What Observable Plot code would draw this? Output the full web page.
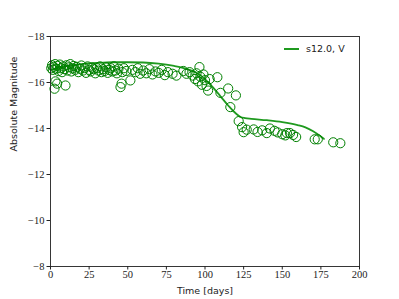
<!DOCTYPE html>
<html>
<head>
<meta charset="utf-8">
<script src="https://cdn.jsdelivr.net/npm/d3@7"></script>
<script src="https://cdn.jsdelivr.net/npm/@observablehq/plot@0.6"></script>
<style>
  html, body { margin: 0; padding: 0; background: #fff; }
  #wrap { position: relative; width: 399px; height: 299px; }
  #legend { position: absolute; left: 284px; top: 43px; font-family: "DejaVu Sans", sans-serif; font-size: 9.5px; color: #222; display: flex; align-items: center; line-height: 12px; }
  #legend svg { margin-right: 7px; }
</style>
</head>
<body>
<div id="wrap"></div>
<script>
// Observations: time [days] and absolute magnitude (V)
const obsTime = [0.5,1.0,1.5,2.0,2.6,3.0,3.2,3.8,4.3,4.6,5.2,6.0,6.8,7.5,8.2,9.0,9.7,10.4,11.0,12.0,12.8,13.5,14.3,15.0,16.0,17.0,18.0,19.0,20.0,21.0,22.0,23.0,24.0,25.0,26.0,27.0,28.0,29.0,30.0,31.0,32.0,33.0,34.0,35.0,36.0,37.0,38.0,39.0,40.0,41.0,42.0,43.0,44.0,45.3,46.0,46.5,47.5,49.0,51.7,53.0,55.0,56.5,58.0,60.0,62.0,64.0,66.0,68.0,70.0,72.0,74.0,76.0,79.0,81.5,86.0,88.0,90.0,92.0,93.5,94.5,95.5,96.4,97.0,98.0,99.0,100.0,101.0,102.0,103.0,108.0,110.0,115.0,116.4,120.0,121.8,124.0,125.0,127.0,131.5,134.0,137.0,140.0,142.0,145.0,147.0,150.0,152.0,153.0,155.0,157.0,159.0,171.0,173.0,183.0,187.6];
const obsMag = [-16.62,-16.75,-16.55,-16.68,-15.73,-16.80,-16.05,-16.60,-15.95,-16.72,-16.50,-16.78,-16.62,-16.45,-16.70,-16.58,-15.87,-16.75,-16.52,-16.66,-16.80,-16.48,-16.62,-16.72,-16.55,-16.68,-16.45,-16.60,-16.74,-16.52,-16.63,-16.42,-16.70,-16.55,-16.48,-16.65,-16.58,-16.40,-16.62,-16.52,-16.70,-16.45,-16.58,-16.50,-16.66,-16.42,-16.55,-16.62,-16.48,-16.70,-16.52,-16.40,-16.60,-15.80,-15.95,-16.45,-16.62,-16.50,-16.09,-16.55,-16.45,-16.62,-16.38,-16.52,-16.40,-16.58,-16.35,-16.48,-16.42,-16.55,-16.32,-16.45,-16.38,-16.30,-16.50,-16.38,-16.45,-16.30,-16.15,-16.40,-16.05,-16.67,-16.25,-15.90,-16.35,-16.10,-15.85,-15.65,-16.15,-16.23,-15.55,-15.74,-14.93,-15.44,-14.32,-14.06,-13.84,-13.95,-13.96,-13.85,-13.92,-13.80,-14.00,-13.90,-13.83,-13.75,-13.70,-13.80,-13.80,-13.72,-13.63,-13.53,-13.53,-13.40,-13.36];

// Model light curve s12.0, V
const modelTime = [0,5,10,20,30,40,50,60,70,80,85,90,95,100,105,110,115,120,123,126,130,140,150,160,165,170,175,177];
const modelMag = [-16.55,-16.65,-16.72,-16.80,-16.85,-16.88,-16.88,-16.87,-16.82,-16.72,-16.65,-16.55,-16.40,-16.15,-15.80,-15.40,-15.00,-14.65,-14.50,-14.45,-14.42,-14.36,-14.28,-14.15,-14.05,-13.88,-13.65,-13.55];

const xTicks = [0,25,50,75,100,125,150,175,200];
const yTicks = [-18,-16,-14,-12,-10,-8];
const xLabel = "Time [days]";
const yLabel = "Absolute Magnitude";
const seriesLabel = "s12.0, V";
const green = "#008000";
const lineGreen = "#1f9a1f";

const obs = obsTime.map((t, i) => ({t, m: obsMag[i]}));
const model = modelTime.map((t, i) => ({t, m: modelMag[i]}));

const serif = "Liberation Serif";
const sans = "DejaVu Sans";
const fmt = d => (d < 0 ? "\u2212" : "") + Math.abs(d);

const chart = Plot.plot({
  width: 399,
  height: 299,
  marginLeft: 50,
  marginRight: 40,
  marginTop: 36,
  marginBottom: 33,
  style: {fontFamily: sans, fontSize: "9.5px", color: "#222", background: "#fff"},
  x: {domain: [0, 200]},
  y: {domain: [-18, -8], reverse: true},
  marks: [
    Plot.line(model, {x: "t", y: "m", stroke: lineGreen, strokeWidth: 1.8, curve: "monotone-x"}),
    Plot.dot(obs, {x: "t", y: "m", r: 4.6, stroke: green, strokeWidth: 1, fill: "none"}),
    Plot.frame({stroke: "#222", strokeWidth: 0.9}),
    Plot.axisX({ticks: xTicks, tickSize: 3.5, tickFormat: () => "", label: null, stroke: "#222"}),
    Plot.axisY({ticks: yTicks, tickSize: 3.5, tickFormat: () => "", label: null, stroke: "#222"}),
    Plot.text(xTicks, {x: d => d, frameAnchor: "bottom", dy: 11, text: fmt, fontFamily: serif, fontSize: 10.5, fill: "#222"}),
    Plot.text(yTicks, {y: d => d, frameAnchor: "left", dx: -6, textAnchor: "end", text: fmt, fontFamily: serif, fontSize: 10.5, fill: "#222"}),
    Plot.text([xLabel], {frameAnchor: "bottom", dy: 27, text: d => d, fontFamily: sans, fontSize: 9.5, fill: "#222"}),
    Plot.text([yLabel], {frameAnchor: "left", dx: -37, rotate: -90, text: d => d, fontFamily: sans, fontSize: 9.5, fill: "#222"})
  ]
});
document.getElementById("wrap").appendChild(chart);

const lg = document.createElement("div");
lg.id = "legend";
lg.innerHTML = '<svg width="15" height="4"><line x1="0" x2="15" y1="2" y2="2" stroke="' + lineGreen + '" stroke-width="2"/></svg><span></span>';
lg.lastChild.textContent = seriesLabel;
document.getElementById("wrap").appendChild(lg);
</script>
</body>
</html>
